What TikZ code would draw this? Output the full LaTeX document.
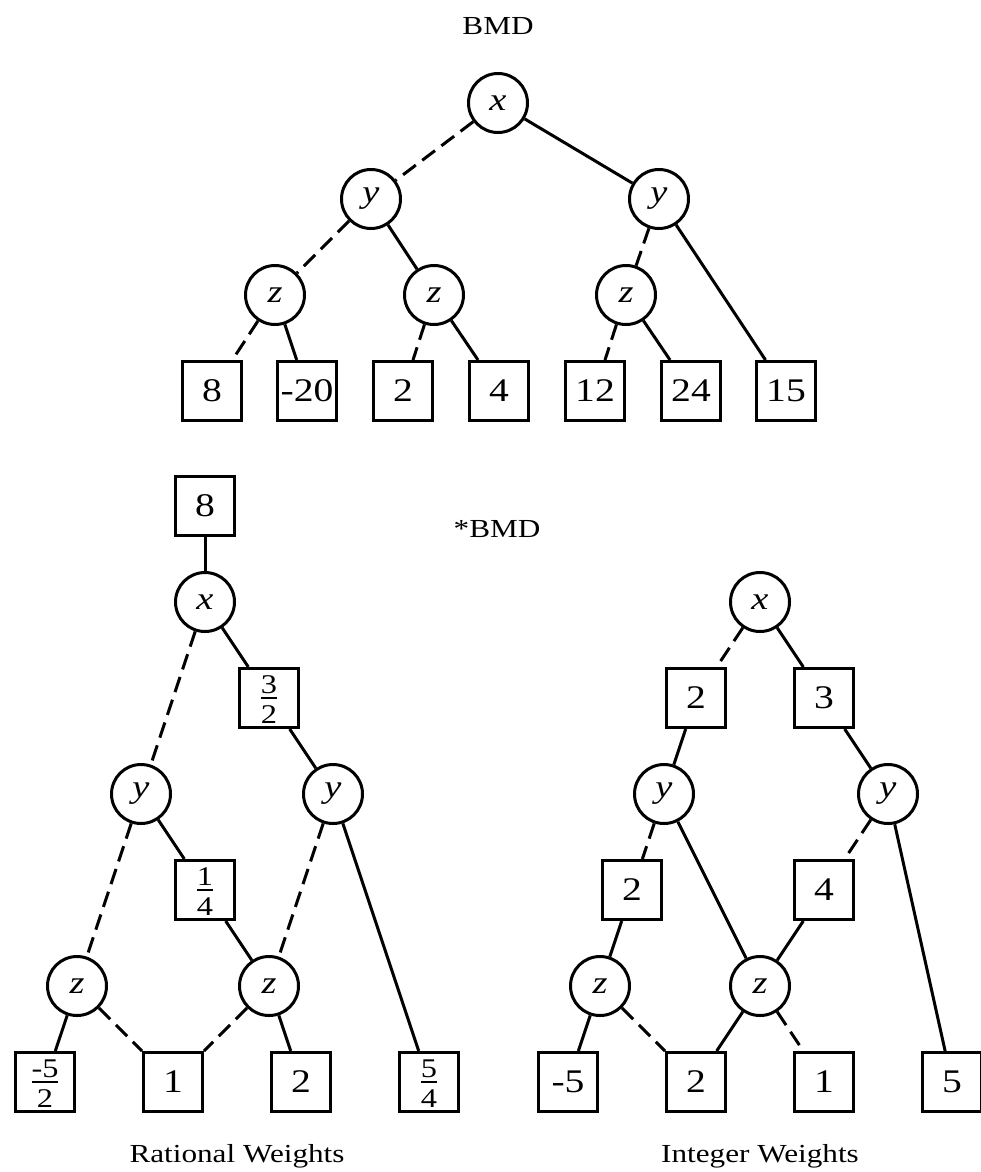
\documentclass[tikz,border=0pt]{standalone}
\usepackage{fontspec}
\setmainfont{Liberation Serif}[FakeStretch=1.2]
\newcommand{\wfrac}[2]{{\fontsize{27}{12}\selectfont\setlength{\arrayrulewidth}{2.5pt}\begin{tabular}{@{}c@{}}\rule{0pt}{24pt}#1\\\hline\rule{0pt}{24pt}#2\end{tabular}}}
\tikzset{var/.style={draw,circle,line width=3pt,minimum size=59pt,inner sep=0pt,font=\fontsize{32}{32}\selectfont\itshape},
  val/.style={draw,rectangle,line width=3pt,minimum size=59pt,inner sep=0pt,font=\fontsize{33}{33}\selectfont},
  lo/.style={line width=3pt,dash pattern=on 16pt off 8pt},
  hi/.style={line width=3pt},
  lbl/.style={anchor=base,font=\fontsize{26}{26}\selectfont}}
\begin{document}
\begin{tikzpicture}[x=1pt,y=-1pt]
\useasboundingbox (0,0) rectangle (981,1172);
% BMD
\node[lbl] (tbmd) at (498,35) {BMD};
\node[var] (bx) at (498,103) {x};
\node[var] (byl) at (371,199) {y}; \node[var] (byr) at (659,199) {y};
\node[var] (bz1) at (275,295) {z}; \node[var] (bz2) at (434,295) {z}; \node[var] (bz3) at (626,295) {z};
\node[val] (b8) at (212,391) {8}; \node[val] (bm20) at (307,391) {-20}; \node[val] (b2) at (403,391) {2}; \node[val] (b4) at (499,391) {4};
\node[val] (b12) at (595,391) {12}; \node[val] (b24) at (691,391) {24}; \node[val] (b15) at (786,391) {15};
\foreach \a/\b in {bx/byl, byl/bz1, byr/bz3, bz1/b8, bz2/b2, bz3/b12} \draw[lo] (\a)--(\b);
\foreach \a/\b in {bx/byr, byl/bz2, byr/b15, bz1/bm20, bz2/b4, bz3/b24} \draw[hi] (\a)--(\b);
% *BMD
\node[lbl] (tsbmd) at (497,537) {*BMD};
% rational weights
\node[val] (r8) at (205,506) {8};
\node[var] (rx) at (205,602) {x};
\node[val] (rw32) at (269,698) {\wfrac{3}{2}};
\node[var] (ryl) at (141,794) {y}; \node[var] (ryr) at (333,794) {y};
\node[val] (rw14) at (205,890) {\wfrac{1}{4}};
\node[var] (rzl) at (77,986) {z}; \node[var] (rzr) at (269,986) {z};
\node[val] (rm52) at (45,1082) {\wfrac{-5}{2}}; \node[val] (r1) at (173,1082) {1}; \node[val] (r2) at (301,1082) {2}; \node[val] (r54) at (429,1082) {\wfrac{5}{4}};
\foreach \a/\b in {rx/ryl, ryl/rzl, ryr/rzr, rzl/r1, rzr/r1} \draw[lo] (\a)--(\b);
\foreach \a/\b in {r8/rx, rx/rw32, rw32/ryr, ryl/rw14, rw14/rzr, ryr/r54, rzl/rm52, rzr/r2} \draw[hi] (\a)--(\b);
\node[lbl] (trw) at (237,1162) {Rational Weights};
% integer weights
\node[var] (ix) at (760,602) {x};
\node[val] (i2) at (696,698) {2}; \node[val] (i3) at (824,698) {3};
\node[var] (iyl) at (664,794) {y}; \node[var] (iyr) at (888,794) {y};
\node[val] (im2) at (632,890) {2}; \node[val] (i4) at (824,890) {4};
\node[var] (izl) at (600,986) {z}; \node[var] (izr) at (760,986) {z};
\node[val] (im5) at (568,1082) {-5}; \node[val] (il2) at (696,1082) {2}; \node[val] (il1) at (824,1082) {1}; \node[val] (il5) at (952,1082) {5};
\foreach \a/\b in {ix/i2, iyl/im2, iyr/i4, izl/il2, izr/il1} \draw[lo] (\a)--(\b);
\foreach \a/\b in {ix/i3, i2/iyl, i3/iyr, iyl/izr, iyr/il5, im2/izl, i4/izr, izl/im5, izr/il2} \draw[hi] (\a)--(\b);
\node[lbl] (tiw) at (760,1162) {Integer Weights};
\end{tikzpicture}
\end{document}
